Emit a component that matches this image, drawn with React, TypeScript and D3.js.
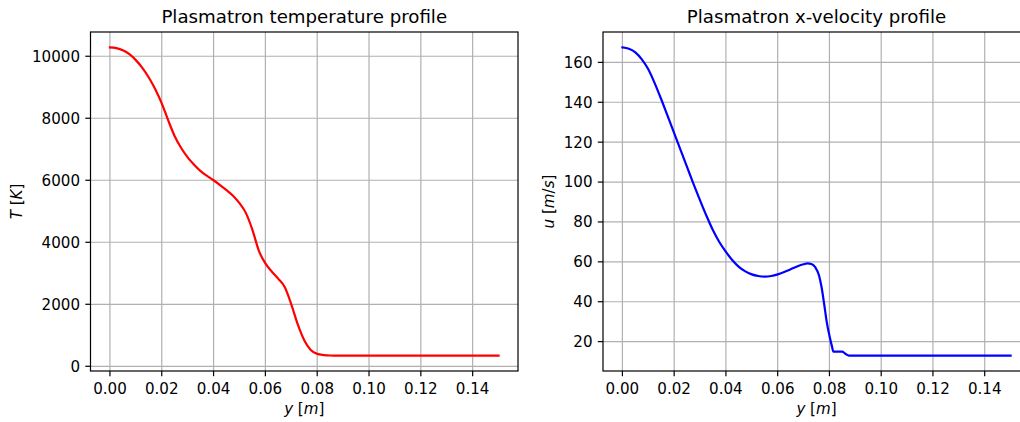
import React from "react";
import * as d3 from "d3";

// Temperature profile data (y [m], T [K])
const tempY = [0, 0.0025, 0.005, 0.0075, 0.01, 0.0125, 0.015, 0.0175, 0.02, 0.0225, 0.025, 0.0275, 0.03, 0.0325, 0.035, 0.0375, 0.04, 0.0425, 0.045, 0.0475, 0.05, 0.0525, 0.055, 0.0575, 0.06, 0.0625, 0.065, 0.0675, 0.07, 0.0725, 0.075, 0.0775, 0.08, 0.0825, 0.085, 0.09, 0.1, 0.12, 0.15];
const tempT = [10285, 10262, 10192, 10065, 9875, 9625, 9315, 8935, 8480, 7930, 7420, 7040, 6740, 6500, 6295, 6140, 6000, 5845, 5680, 5500, 5260, 4940, 4400, 3720, 3320, 3050, 2820, 2550, 2000, 1350, 840, 525, 400, 362, 348, 345, 345, 345, 345];

// Velocity profile data (y [m], u [m/s])
const velY = [0, 0.0025, 0.005, 0.0075, 0.01, 0.0125, 0.015, 0.0175, 0.02, 0.0225, 0.025, 0.0275, 0.03, 0.0325, 0.035, 0.0375, 0.04, 0.0425, 0.045, 0.0475, 0.05, 0.0525, 0.055, 0.0575, 0.06, 0.0625, 0.065, 0.0675, 0.07, 0.0715, 0.073, 0.0745, 0.076, 0.077, 0.078, 0.079, 0.08, 0.081, 0.0815, 0.085, 0.0855, 0.0865, 0.0875, 0.1, 0.12, 0.15];
const velU = [167.5, 166.8, 165, 161.5, 156.5, 149.5, 141.5, 133, 124.5, 116, 107.5, 99, 90.8, 83, 75.8, 69.8, 65, 60.8, 57.5, 55.2, 53.7, 52.9, 52.6, 52.9, 53.7, 54.9, 56.3, 57.7, 58.8, 59.2, 58.9, 57.3, 53, 47, 38.5, 29.5, 23, 17.5, 15, 15, 14.6, 13.6, 13, 13, 13, 13];

const xTicks = [0, 0.02, 0.04, 0.06, 0.08, 0.1, 0.12, 0.14];
const tTicks = [0, 2000, 4000, 6000, 8000, 10000];
const uTicks = [20, 40, 60, 80, 100, 120, 140, 160];

const FONT = "DejaVu Sans";
const TICK_FS = 15.1;
const TITLE_FS = 18.2;

type PanelProps = {
  x0: number; x1: number; y0: number; y1: number;
  xs: number[]; ys: number[]; color: string; yTicks: number[];
  title: string; yLabel: React.ReactNode; yLabelX: number;
};

function Panel({ x0, x1, y0, y1, xs, ys, color, yTicks, title, yLabel, yLabelX }: PanelProps) {
  const xmin = d3.min(xs)!, xmax = d3.max(xs)!;
  const ymin = d3.min(ys)!, ymax = d3.max(ys)!;
  const xm = (xmax - xmin) * 0.05, ym = (ymax - ymin) * 0.05;
  const x = d3.scaleLinear().domain([xmin - xm, xmax + xm]).range([x0, x1]);
  const y = d3.scaleLinear().domain([ymin - ym, ymax + ym]).range([y1, y0]);
  const pts = xs.map((v, i) => [v, ys[i]] as [number, number]);
  const line = d3.line<[number, number]>().x(d => x(d[0])).y(d => y(d[1])).curve(d3.curveMonotoneX);
  const tickLen = 5.2;
  return (
    <g>
      {xTicks.map(t => (
        <line key={"gx" + t} x1={x(t)} x2={x(t)} y1={y0} y2={y1} stroke="#b0b0b0" strokeWidth={1.2} />
      ))}
      {yTicks.map(t => (
        <line key={"gy" + t} x1={x0} x2={x1} y1={y(t)} y2={y(t)} stroke="#b0b0b0" strokeWidth={1.2} />
      ))}
      <path d={line(pts) || ""} fill="none" stroke={color} strokeWidth={2.2} strokeLinejoin="round" strokeLinecap="square" />
      <rect x={x0} y={y0} width={x1 - x0} height={y1 - y0} fill="none" stroke="#000" strokeWidth={1.2} />
      {xTicks.map(t => (
        <g key={"tx" + t}>
          <line x1={x(t)} x2={x(t)} y1={y1} y2={y1 + tickLen} stroke="#000" strokeWidth={1.2} />
          <text x={x(t)} y={y1 + 23} textAnchor="middle" fontFamily={FONT} fontSize={TICK_FS} fill="#000">{t.toFixed(2)}</text>
        </g>
      ))}
      {yTicks.map(t => (
        <g key={"ty" + t}>
          <line x1={x0 - tickLen} x2={x0} y1={y(t)} y2={y(t)} stroke="#000" strokeWidth={1.2} />
          <text x={x0 - 10.5} y={y(t)} dy="0.36em" textAnchor="end" fontFamily={FONT} fontSize={TICK_FS} fill="#000">{t}</text>
        </g>
      ))}
      <text x={(x0 + x1) / 2} y={y0 - 9.5} textAnchor="middle" fontFamily={FONT} fontSize={TITLE_FS} fill="#000">{title}</text>
      <text x={(x0 + x1) / 2} y={413.5} textAnchor="middle" fontFamily={FONT} fontSize={TICK_FS} fill="#000">
        <tspan fontStyle="italic">y</tspan> [<tspan fontStyle="italic">m</tspan>]
      </text>
      <text transform={`translate(${yLabelX},${(y0 + y1) / 2}) rotate(-90)`} textAnchor="middle" fontFamily={FONT} fontSize={TICK_FS} fill="#000">
        {yLabel}
      </text>
    </g>
  );
}

export default function App() {
  return (
    <svg width={1020} height={422} style={{ position: "absolute", left: 0, top: 0, background: "#fff" }}>
      <rect x={0} y={0} width={1020} height={422} fill="#fff" />
      <Panel x0={90.5} x1={518} y0={32} y1={371} xs={tempY} ys={tempT} color="#ff0000" yTicks={tTicks}
        title="Plasmatron temperature profile"
        yLabel={<><tspan fontStyle="italic">T</tspan> [<tspan fontStyle="italic">K</tspan>]</>}
        yLabelX={22} />
      <Panel x0={603} x1={1030} y0={32} y1={371} xs={velY} ys={velU} color="#0000ff" yTicks={uTicks}
        title="Plasmatron x-velocity profile"
        yLabel={<><tspan fontStyle="italic">u</tspan> [<tspan fontStyle="italic">m</tspan>/<tspan fontStyle="italic">s</tspan>]</>}
        yLabelX={554} />
    </svg>
  );
}
